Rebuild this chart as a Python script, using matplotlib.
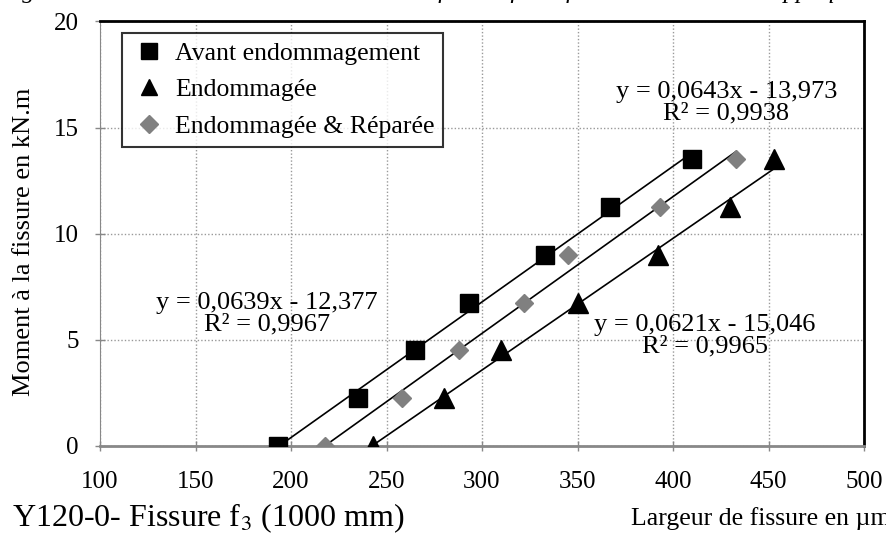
import numpy as np
import matplotlib
matplotlib.use("Agg")
from matplotlib import pyplot as plt
from matplotlib.ticker import MultipleLocator

# data (crack width in µm, moment in kN.m)
moment = [0, 2.25, 4.5, 6.75, 9, 11.25, 13.5]
w_avant = [193, 235, 265, 293, 333, 367, 410]
w_endo = [243, 280, 310, 350, 392, 430, 453]
w_repar = [218, 258, 288, 322, 345, 393, 433]

eq_avant = ["y = 0,0639x - 12,377", "R² = 0,9967"]
eq_endo = ["y = 0,0621x - 15,046", "R² = 0,9965"]
eq_repar = ["y = 0,0643x - 13,973", "R² = 0,9938"]

labels = ["Avant endommagement", "Endommagée", "Endommagée & Réparée"]

plt.rcParams["font.family"] = ["Liberation Serif", "DejaVu Serif"]

fig = plt.figure(figsize=(8.87, 5.34), dpi=100)
ax = fig.add_axes([100 / 887, 88 / 534, 764 / 887, 424.6 / 534])

series = [
    (w_avant, dict(marker="s", color="black", ms=13, label=labels[0])),
    (w_endo, dict(marker="^", color="black", ms=14, label=labels[1])),
    (w_repar, dict(marker="D", color="#808080", ms=9, label=labels[2])),
]
for w, style in series:
    ax.plot(w, moment, linestyle="none", zorder=3, **style)
    # excel style linear trendline over the data range
    a, b = np.polyfit(w, moment, 1)
    xs = np.array([min(w), max(w)])
    ax.plot(xs, a * xs + b, color="black", lw=1.2, zorder=2)

txt_kw = dict(ha="center", va="center", fontsize=19, linespacing=0.95)
ax.text(187.4, 6.24, "\n".join(eq_avant), **txt_kw)
ax.text(428, 16.16, "\n".join(eq_repar), **txt_kw)
ax.text(416.7, 5.18, "\n".join(eq_endo), **txt_kw)

ax.set_xlim(100, 500)
ax.set_ylim(0, 20)
ax.xaxis.set_major_locator(MultipleLocator(50))
ax.yaxis.set_major_locator(MultipleLocator(5))
ax.grid(True, color="#999999", linestyle=(0, (1, 1.5)), lw=1)
ax.set_axisbelow(True)

ax.spines["left"].set_color("#888888")
ax.spines["bottom"].set_color("#888888")
ax.spines["bottom"].set_linewidth(2)
ax.spines["top"].set_linewidth(2)
ax.spines["right"].set_linewidth(2)
ax.tick_params(axis="both", colors="#888888", labelcolor="black", labelsize=18,
               length=6.5, width=1, direction="inout")
ax.tick_params(axis="x", pad=15)
ax.tick_params(axis="y", pad=12)

ax.set_ylabel("Moment à la fissure en kN.m", fontsize=19)
ax.yaxis.set_label_coords(-0.085, 0.48)

leg = ax.legend(loc="upper left", bbox_to_anchor=(0.029, 0.973), fontsize=18.5,
                frameon=True, fancybox=False, edgecolor="black", handletextpad=0.3,
                handlelength=1.4, borderpad=0.35, labelspacing=0.52, numpoints=1,
                borderaxespad=0)
leg.get_frame().set_linewidth(1.5)
for h, ms in zip(leg.legend_handles, [12, 12, 9]):
    h.set_markersize(ms)

fig.text(12 / 887, 1 - 526.5 / 534, "Y120-0- Fissure f$_3$ (1000 mm)", fontsize=23,
         ha="left", va="baseline", math_fontfamily="stix")
fig.text(631 / 887, 1 - 525 / 534, "Largeur de fissure en µm", fontsize=18.5,
         ha="left", va="baseline")

# caption of the page, cut at the top edge of the picture
fig.text(0.0, 1 + 2 / 534,
         "Figure 4.21 : Variation de l'ouverture de la fissure f3 en fonction du moment appliqué",
         fontsize=18, style="italic", ha="left", va="baseline")

fig.savefig("out.png", dpi=100)
